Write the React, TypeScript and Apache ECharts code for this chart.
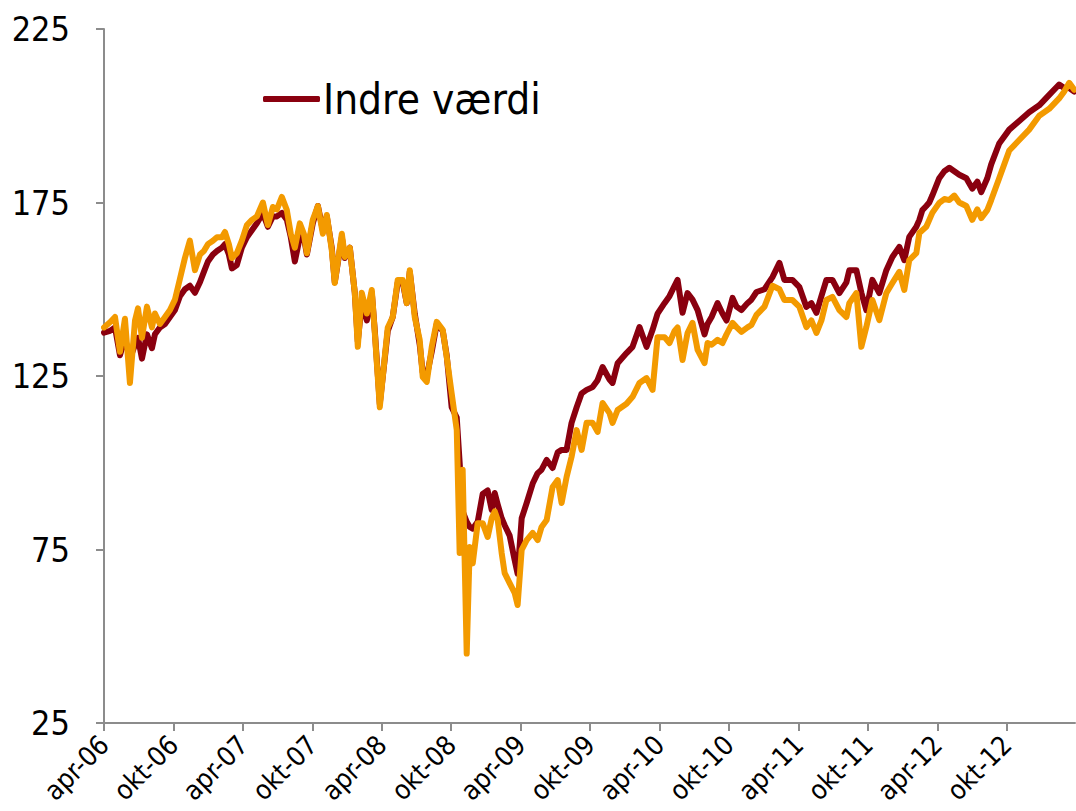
import React, { useEffect, useRef } from "react";
import * as echarts from "echarts";

// Months since April 2006 (x positions of the readings)
const months = [
  0, 0.52, 0.95, 1.38, 1.81, 2.24, 2.68, 2.94, 3.28, 3.71,
  4.14, 4.4, 4.83, 5.27, 5.7, 6.13, 6.56, 6.99, 7.42, 7.86,
  8.29, 8.63, 8.98, 9.41, 9.76, 10.19, 10.45, 10.79, 11.05, 11.48,
  11.91, 12.35, 12.78, 13.21, 13.73, 14.16, 14.59, 14.94, 15.37, 15.8,
  16.14, 16.49, 16.92, 17.27, 17.53, 18.04, 18.48, 18.91, 19.25, 19.68,
  19.94, 20.55, 20.81, 21.24, 21.67, 21.93, 22.27, 22.71, 23.14, 23.4,
  23.83, 24.26, 24.52, 24.95, 25.38, 25.81, 26.16, 26.42, 26.85, 27.28,
  27.54, 27.89, 28.32, 28.75, 29.27, 29.61, 30.04, 30.48, 30.73, 30.99,
  31.34, 31.6, 31.86, 32.29, 32.72, 33.15, 33.5, 33.76, 34.02, 34.36,
  34.62, 35.05, 35.48, 35.74, 36.09, 36.52, 37.04, 37.47, 37.81, 38.25,
  38.76, 39.2, 39.54, 39.97, 40.4, 40.84, 41.27, 41.7, 42.22, 42.65,
  43.08, 43.68, 43.94, 44.38, 45.15, 45.67, 46.27, 46.88, 47.4, 47.83,
  48.43, 48.86, 49.3, 49.56, 49.99, 50.42, 50.85, 51.29, 51.89, 52.15,
  52.5, 53.01, 53.44, 53.79, 54.31, 54.65, 55.08, 55.6, 55.94, 56.38,
  57.07, 57.76, 58.36, 58.79, 59.48, 60.09, 60.69, 61.12, 61.56, 61.99,
  62.42, 62.94, 63.54, 64.15, 64.4, 65.01, 65.44, 65.87, 66.39, 66.99,
  67.6, 68.12, 68.72, 69.15, 69.58, 70.19, 70.45, 70.71, 71.05, 71.31,
  71.57, 72.17, 72.61, 73.04, 73.47, 73.9, 74.51, 75.02, 75.46, 75.8,
  76.32, 76.66, 77.35, 78.22, 79.08, 79.94, 80.81, 81.67, 82.53, 82.97,
  83.4, 83.83,
];

const indreVaerdi = [
  137.5, 138, 139, 131, 136, 130, 134, 136, 130, 137,
  133, 137, 139, 140, 142, 144, 148, 150, 151, 149,
  152, 155, 158, 160, 161, 162, 163, 160, 156, 157,
  162, 165, 167, 169, 172, 168, 171, 171, 172, 170,
  165, 158, 165, 165, 160, 169, 174, 167, 171, 162,
  152, 165, 159, 162, 149, 135, 146, 141, 149, 138,
  117, 130, 138, 142, 152, 152, 146, 155, 143, 134,
  126, 125, 132, 140, 138, 131, 116, 113, 100, 86,
  83, 81.5, 81, 83, 91, 92, 86.4, 91.3, 88, 84,
  82, 79, 72, 68, 84, 88.4, 94, 97, 98, 100.8,
  98.5, 103, 103.7, 103.7, 111.5, 116, 120, 121, 121.8, 123.8,
  127.6, 124, 123, 128.7, 131.6, 133.4, 139.1, 133.4, 138.3, 143,
  146, 148, 151, 152.7, 143.2, 148.9, 147, 144, 137, 140,
  142, 146, 143, 141, 147.5, 145, 144, 146, 147, 149.2,
  150, 153.5, 157.6, 152.7, 152.7, 150.6, 144.9, 146, 143.2, 148,
  152.7, 152.7, 148.9, 152, 155.5, 155.5, 149, 144, 152.7, 148.9,
  155.5, 159.3, 162.2, 158.4, 165.1, 168, 170, 172.8, 174, 175,
  177, 182, 184, 185, 184, 183, 182, 179, 181, 178,
  182, 186, 192, 196, 198.5, 201, 203, 206, 209, 208,
  208, 207,
];

const kurs = [
  139, 140.5, 142, 132, 141.5, 123, 141, 144.5, 136, 145,
  139, 143, 140, 142, 144, 147, 153, 159, 164, 155.5,
  160, 161, 163, 164, 165, 165, 166.5, 163, 159, 160.4,
  164, 168.5, 170, 171, 175, 168.5, 173.7, 173, 176.6, 172.8,
  166, 162, 169, 166, 160.4, 170, 174, 166, 171.4, 161.3,
  151.8, 166, 159.3, 162, 149, 133.4, 149, 143, 149.8, 137.4,
  116, 130.5, 139, 142, 152.7, 152.7, 146, 155.5, 142, 135.4,
  124.7, 123.3, 133.4, 140.6, 138.3, 130.5, 120, 109.4, 74, 98,
  45, 75.7, 71, 82.6, 82.6, 78.6, 84, 86, 83.5, 74,
  68.2, 65.3, 62.5, 59, 74.9, 77.7, 79.8, 77.7, 81.5, 83.5,
  93, 95, 88.4, 95.9, 101.7, 109.4, 103.7, 111.5, 111.5, 108.9,
  117.2, 114.3, 111.5, 115.2, 117, 119, 123, 124.4, 121, 136.2,
  136.2, 134.5, 138, 139, 129.6, 137.4, 140.3, 132.5, 128.7, 134.5,
  134, 135.4, 134.5, 137, 140.3, 139.1, 137.7, 139, 139.7, 142.6,
  145, 151, 150, 146.9, 146.9, 144.9, 139.1, 141, 137.4, 141,
  146.9, 147.8, 144, 142, 146, 148.9, 133.4, 139.1, 146.9, 141.1,
  148.9, 151.8, 155, 149.8, 158.4, 160.4, 166.2, 167, 168, 170,
  172, 174.9, 176, 175.7, 177, 175, 174, 170, 173, 170.5,
  172.8, 175.7, 182, 190, 193, 196, 200, 202, 205, 207,
  209.5, 207.5,
];

const xTickLabels = [
  "apr-06", "okt-06", "apr-07", "okt-07", "apr-08", "okt-08", "apr-09",
  "okt-09", "apr-10", "okt-10", "apr-11", "okt-11", "apr-12", "okt-12",
];

const FONT = "'DejaVu Sans Condensed', 'DejaVu Sans', sans-serif";

export default function App() {
  const ref = useRef<HTMLDivElement>(null);

  useEffect(() => {
    if (!ref.current) return;
    const chart = echarts.init(ref.current, null, { renderer: "svg" });
    const pair = (vals: number[]) =>
      vals.map((v, i) => [months[i], v]).filter((p) => p[0] !== undefined);
    const tickValues = xTickLabels.map((_, i) => i * 6);

    chart.setOption({
      animation: false,
      backgroundColor: "#ffffff",
      textStyle: { fontFamily: FONT },
      legend: {
        data: [{ name: "Indre værdi", icon: "roundRect" }],
        left: 258,
        top: 73,
        itemWidth: 57,
        itemHeight: 6,
        itemGap: 10,
        textStyle: { fontSize: 42, color: "#000", fontFamily: FONT, padding: [0, 0, 0, -2] },
      },
      grid: { left: 104, top: 29, width: 971, height: 694, containLabel: false },
      xAxis: {
        type: "value",
        min: 0,
        max: 83.9,
        interval: 6,
        axisLine: { show: true, lineStyle: { color: "#8c8c8c", width: 2 } },
        axisTick: {
          show: true,
          length: 8,
          customValues: tickValues,
          lineStyle: { color: "#8c8c8c", width: 2 },
        },
        splitLine: { show: false },
        axisLabel: {
          rotate: 45,
          fontSize: 27,
          color: "#000",
          margin: 17,
          fontFamily: FONT,
          customValues: tickValues,
          formatter: (v: number) => {
            const idx = Math.round(v / 6);
            return xTickLabels[idx] ?? "";
          },
        },
      },
      yAxis: {
        type: "value",
        min: 25,
        max: 225,
        interval: 50,
        axisLine: { show: true, lineStyle: { color: "#8c8c8c", width: 2 } },
        axisTick: { show: true, length: 8, lineStyle: { color: "#8c8c8c", width: 2 } },
        splitLine: { show: false },
        axisLabel: { fontSize: 34, color: "#000", margin: 34, fontFamily: FONT },
      },
      series: [
        {
          name: "Indre værdi",
          type: "line",
          data: pair(indreVaerdi),
          showSymbol: false,
          symbol: "none",
          color: "#8a000f",
          lineStyle: { width: 6, color: "#8a000f", cap: "round", join: "round" },
          z: 2,
        },
        {
          name: "Kurs",
          type: "line",
          data: pair(kurs),
          showSymbol: false,
          symbol: "none",
          color: "#f39a00",
          lineStyle: { width: 6, color: "#f39a00", cap: "round", join: "round" },
          z: 3,
        },
      ],
    });
    return () => chart.dispose();
  }, []);

  return (
    <div
      ref={ref}
      style={{ position: "absolute", left: 0, top: 0, width: 1076, height: 811 }}
    />
  );
}
